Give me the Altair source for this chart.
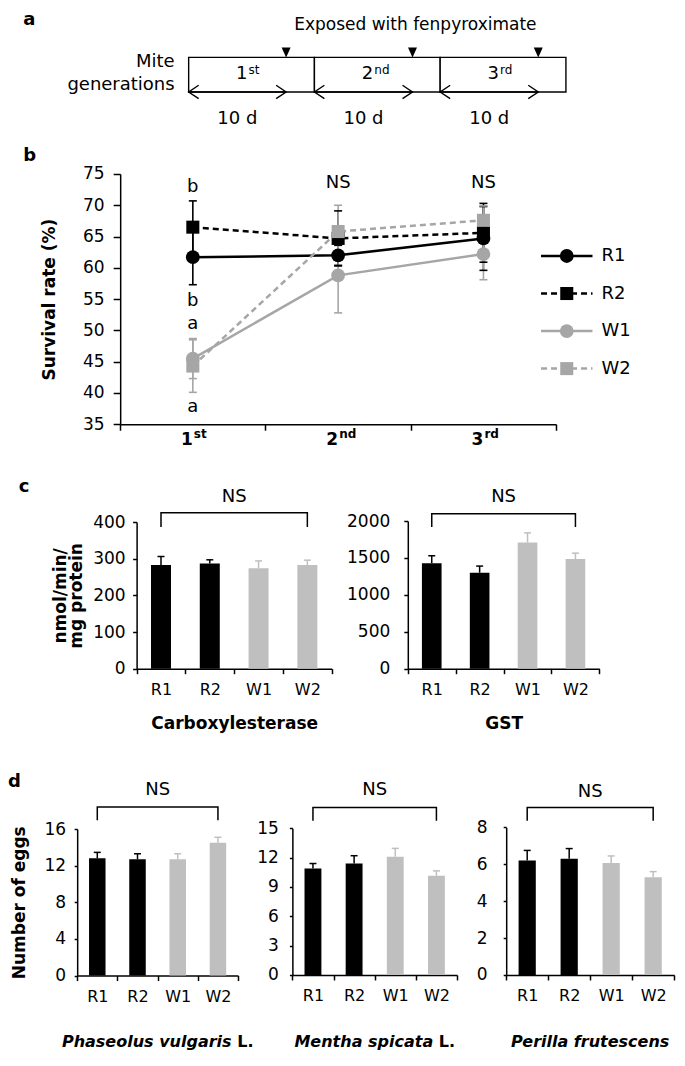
import altair as alt
import pandas as pd

# ------------------------------------------------------------------ data
series = ["R1", "R2", "W1", "W2"]
generations = ["1st", "2nd", "3rd"]
generation_number = ["1", "2", "3"]
generation_suffix = ["st", "nd", "rd"]

survival_R1 = [61.7, 62.0, 64.7]
survival_R2 = [66.5, 64.7, 65.6]
survival_W1 = [45.5, 58.8, 62.2]
survival_W2 = [44.3, 65.8, 67.6]
survival_err_R1 = [4.4, 1.6, 5.1]
survival_err_R2 = [4.2, 4.4, 4.7]
survival_err_W1 = [3.2, 6.0, 4.1]
survival_err_W2 = [4.2, 4.2, 2.3]

stat_text = ["b", "b", "a", "a", "NS", "NS"]
stat_generation = ["1st", "1st", "1st", "1st", "2nd", "3rd"]

carboxylesterase = [283, 287, 274, 283]
carboxylesterase_err = [23, 10, 20, 13]
gst = [1430, 1300, 1710, 1485]
gst_err = [100, 90, 130, 80]

eggs_phaseolus = [12.8, 12.7, 12.7, 14.5]
eggs_phaseolus_err = [0.65, 0.6, 0.6, 0.6]
eggs_mentha = [10.9, 11.4, 12.1, 10.15]
eggs_mentha_err = [0.5, 0.8, 0.85, 0.5]
eggs_perilla = [6.2, 6.3, 6.07, 5.3]
eggs_perilla_err = [0.55, 0.55, 0.38, 0.3]

gen_start_day = [0, 10, 20]
gen_end_day = [10, 20, 30]
exposure_day = [7.75, 17.8, 27.8]

# ------------------------------------------------------------------ layout / style
FONT = "DejaVu Sans"
W, H = 669, 1048


def X(r):
    return (r - 2) * 0.984


def Y(r):
    return (r - 3) * 0.988


BLACK = "#000000"
GRAY = "#a6a6a6"
BARGRAY = "#bfbfbf"
line_color = {"R1": BLACK, "R2": BLACK, "W1": GRAY, "W2": GRAY}
bar_color = {"R1": BLACK, "R2": BLACK, "W1": BARGRAY, "W2": BARGRAY}
COL = alt.Color("color:N", scale=None)

# ------------------------------------------------------------------ panel a (timeline)
a_x0, a_x1, a_top, a_bot = 185.6, 569, 53, 88


def va(ref):
    return (a_bot - ref) / (a_bot - a_top)


xa_scale = alt.Scale(domain=[0, 30], range=[X(a_x0), X(a_x1)], nice=False, zero=False)
ya_scale = alt.Scale(domain=[0, 1], range=[Y(a_bot), Y(a_top)], nice=False, zero=False)


def ax(f):
    return alt.X(f + ":Q", scale=xa_scale, axis=None)


def ay(f):
    return alt.Y(f + ":Q", scale=ya_scale, axis=None)


gen_df = pd.DataFrame({
    "start": gen_start_day, "end": gen_end_day, "exp": exposure_day,
    "num": generation_number, "suf": generation_suffix,
})
gen_df["period"] = [f"{e - s} d" for s, e in zip(gen_start_day, gen_end_day)]
gen_df["mid"] = (gen_df["start"] + gen_df["end"]) / 2
gen_df["arrow_mid"] = (gen_df["start"] + gen_df["exp"]) / 2
gen_df["y0"] = 0.0
gen_df["y1"] = 1.0
gen_df["y_num"] = va(70)
gen_df["y_suf"] = va(65.5)
gen_df["y_tri"] = va(48)
gen_df["y_period"] = va(115)

A = alt.Chart(gen_df)
a_boxes = A.mark_rect(fill="white", stroke="black", strokeWidth=1.4).encode(
    x=ax("start"), x2=alt.X2("end"), y=ay("y0"), y2=alt.Y2("y1"))
a_tri = A.mark_point(shape="M-0.9,-1L0.9,-1L0,1Z", filled=True, color="black",
                     size=100, opacity=1).encode(x=ax("exp"), y=ay("y_tri"))
a_arrow = A.mark_rule(color="black", strokeWidth=1.4).encode(
    x=ax("start"), x2=alt.X2("exp"), y=ay("y0"))
a_head_l = A.mark_point(shape="M1,-0.67L0,0L1,0.67", filled=False, color="black",
                        strokeWidth=1.4, size=400, opacity=1).encode(x=ax("start"), y=ay("y0"))
a_head_r = A.mark_point(shape="M-1,-0.67L0,0L-1,0.67", filled=False, color="black",
                        strokeWidth=1.4, size=400, opacity=1).encode(x=ax("exp"), y=ay("y0"))
a_num = A.mark_text(align="right", baseline="middle", fontSize=18, dx=-4).encode(
    x=ax("mid"), y=ay("y_num"), text="num:N")
a_suf = A.mark_text(align="left", baseline="middle", fontSize=12, dx=-3).encode(
    x=ax("mid"), y=ay("y_suf"), text="suf:N")
a_period = A.mark_text(baseline="middle", fontSize=18).encode(
    x=ax("arrow_mid"), y=ay("y_period"), text="period:N")

a_title_df = pd.DataFrame({"x": [(416 - a_x0) / (a_x1 - a_x0) * 30], "y": [va(20)],
                           "t": ["Exposed with fenpyroximate"]})
a_title = alt.Chart(a_title_df).mark_text(baseline="middle", fontSize=17).encode(
    x=ax("x"), y=ay("y"), text="t:N")
a_side_df = pd.DataFrame({"x": [0, 0], "y": [va(58), va(81)], "t": ["Mite", "generations"]})
a_side = alt.Chart(a_side_df).mark_text(align="right", baseline="middle", fontSize=18, dx=-14).encode(
    x=ax("x"), y=ay("y"), text="t:N")
a_letter_df = pd.DataFrame({"x": [0], "y": [va(15)], "t": ["a"]})
a_letter = alt.Chart(a_letter_df).mark_text(
    align="left", baseline="middle", fontSize=18, fontWeight="bold",
    dx=X(17.5) - X(a_x0)).encode(x=ax("x"), y=ay("y"), text="t:N")

panel_a = alt.layer(a_boxes, a_arrow, a_head_l, a_head_r, a_tri, a_num, a_suf,
                    a_period, a_title, a_side, a_letter)

# ------------------------------------------------------------------ panel b (survival)
b_x0, b_x1, b_top, b_bot = 116, 559, 171, 424.3
b_step = (X(b_x1) - X(b_x0)) / 3


def b_val(ref):
    return 75 - (ref - b_top) * 40 / (b_bot - b_top)


xb_scale = alt.Scale(type="band", domain=generations, range=[X(b_x0), X(b_x1)],
                     paddingInner=0, paddingOuter=0)
xb_axis = alt.Axis(orient="bottom", offset=-(H - Y(b_bot)), labels=False, title=None,
                   tickBand="extent", tickSize=6)
yb_scale = alt.Scale(domain=[35, 75], range=[Y(b_bot), Y(b_top)], nice=False, zero=False)
yb_axis = alt.Axis(orient="left", offset=-X(b_x0), values=list(range(35, 80, 5)), format="d",
                   tickSize=7, labelPadding=9, labelFontSize=17,
                   title="Survival rate (%)", titleX=X(43.7) - X(b_x0),
                   titleY=(Y(b_top) + Y(b_bot)) / 2, titleAngle=270, titleAlign="center",
                   titleBaseline="middle", titleFontWeight="bold", titleFontSize=17)


def bx():
    return alt.X("gen:N", scale=xb_scale, axis=xb_axis)


def by(f):
    return alt.Y(f + ":Q", scale=yb_scale, axis=yb_axis)


rows = []
for s, means, errs in zip(series, [survival_R1, survival_R2, survival_W1, survival_W2],
                          [survival_err_R1, survival_err_R2, survival_err_W1, survival_err_W2]):
    for g, m, e in zip(generations, means, errs):
        rows.append({"series": s, "gen": g, "value": m, "lo": m - e, "hi": m + e,
                     "color": line_color[s]})
df_b = pd.DataFrame(rows)
solid_b = df_b[df_b["series"].isin(["R1", "W1"])]
dashed_b = df_b[df_b["series"].isin(["R2", "W2"])]

b_err = alt.Chart(df_b).mark_rule(strokeWidth=1.6).encode(x=bx(), y=by("lo"), y2=alt.Y2("hi"), color=COL)
b_cap_lo = alt.Chart(df_b).mark_tick(orient="horizontal", size=8, thickness=1.6, opacity=1).encode(
    x=bx(), y=by("lo"), color=COL)
b_cap_hi = alt.Chart(df_b).mark_tick(orient="horizontal", size=8, thickness=1.6, opacity=1).encode(
    x=bx(), y=by("hi"), color=COL)
b_line_s = alt.Chart(solid_b).mark_line(strokeWidth=2.5).encode(
    x=bx(), y=by("value"), detail="series:N", color=COL)
b_line_d = alt.Chart(dashed_b).mark_line(strokeWidth=2.5, strokeDash=[6, 4]).encode(
    x=bx(), y=by("value"), detail="series:N", color=COL)
b_circ = alt.Chart(solid_b).mark_point(shape="circle", filled=True, size=190, opacity=1).encode(
    x=bx(), y=by("value"), color=COL)
b_sq = alt.Chart(dashed_b).mark_point(shape="square", filled=True, size=170, opacity=1).encode(
    x=bx(), y=by("value"), color=COL)

stat_ref_y = [184, 300, 323, 407, 180, 180]
stat_df = pd.DataFrame({"gen": stat_generation, "y": [b_val(r) for r in stat_ref_y], "t": stat_text})
b_stat = alt.Chart(stat_df).mark_text(baseline="middle", fontSize=18).encode(
    x=bx(), y=by("y"), text="t:N")

xl_df = pd.DataFrame({"gen": generations, "num": generation_number, "suf": generation_suffix,
                      "yn": b_val(440), "ys": b_val(434)})
b_xnum = alt.Chart(xl_df).mark_text(align="right", baseline="middle", fontSize=17,
                                    fontWeight="bold").encode(x=bx(), y=by("yn"), text="num:N")
b_xsuf = alt.Chart(xl_df).mark_text(align="left", baseline="middle", fontSize=12,
                                    fontWeight="bold", dx=1).encode(x=bx(), y=by("ys"), text="suf:N")
b_letter_df = pd.DataFrame({"gen": ["1st"], "y": [75], "t": ["b"]})
b_letter = alt.Chart(b_letter_df).mark_text(
    align="left", baseline="middle", fontSize=18, fontWeight="bold",
    dx=X(17.5) - (X(b_x0) + b_step / 2), dy=Y(153) - Y(b_top)).encode(x=bx(), y=by("y"), text="t:N")

panel_b = alt.layer(b_err, b_cap_lo, b_cap_hi, b_line_s, b_line_d, b_circ, b_sq,
                    b_stat, b_xnum, b_xsuf, b_letter)

# legend of panel b
leg_df = pd.DataFrame({"series": series, "x0": 0.0, "x1": 1.0, "xm": 0.5,
                       "color": [line_color[s] for s in series]})
lx_scale = alt.Scale(domain=[0, 1], range=[X(543.7), X(596)], nice=False, zero=False)
ly_scale = alt.Scale(type="point", domain=series, range=[Y(254), Y(368)], padding=0)


def lx(f):
    return alt.X(f + ":Q", scale=lx_scale, axis=None)


def ly():
    return alt.Y("series:N", scale=ly_scale, axis=None)


leg_s = leg_df[leg_df["series"].isin(["R1", "W1"])]
leg_d = leg_df[leg_df["series"].isin(["R2", "W2"])]
legend_b = alt.layer(
    alt.Chart(leg_s).mark_rule(strokeWidth=2.5).encode(x=lx("x0"), x2=alt.X2("x1"), y=ly(), color=COL),
    alt.Chart(leg_d).mark_rule(strokeWidth=2.5, strokeDash=[6, 4]).encode(
        x=lx("x0"), x2=alt.X2("x1"), y=ly(), color=COL),
    alt.Chart(leg_s).mark_point(shape="circle", filled=True, size=190, opacity=1).encode(
        x=lx("xm"), y=ly(), color=COL),
    alt.Chart(leg_d).mark_point(shape="square", filled=True, size=170, opacity=1).encode(
        x=lx("xm"), y=ly(), color=COL),
    alt.Chart(leg_df).mark_text(align="left", baseline="middle", fontSize=18, dx=9).encode(
        x=lx("x1"), y=ly(), text="series:N"),
)


# ------------------------------------------------------------------ bar panels (c, d)
def bar_panel(values, errs, x0, x1, top, bot, ymax, yticks, ytick_size, ylab_pad,
              ns_ref, br_top_ref, br_end_ref, ytitle=None, ytitle_ref_x=None,
              xtitle=None, species=None, letter=None, letter_ref=None):
    step = (X(x1) - X(x0)) / 4

    def val(ref):
        return ymax * (bot - ref) / (bot - top)

    xs = alt.Scale(type="band", domain=series, range=[X(x0), X(x1)], paddingInner=0, paddingOuter=0)
    xkw = dict(orient="bottom", offset=-(H - Y(bot)), tickBand="extent", tickSize=5,
               labelPadding=8, labelFontSize=16, labelAngle=0, labelAlign="center",
               labelBaseline="top")
    if xtitle:
        xkw.update(title=xtitle, titleX=(X(x0) + X(x1)) / 2, titleY=Y(727) - Y(bot),
                   titleAlign="center", titleBaseline="middle", titleFontWeight="bold",
                   titleFontSize=17)
    else:
        xkw.update(title=None)
    xa = alt.Axis(**xkw)
    ys = alt.Scale(domain=[0, ymax], range=[Y(bot), Y(top)], nice=False, zero=True)
    ykw = dict(orient="left", offset=-X(x0), values=yticks, format="d", tickSize=ytick_size,
               labelPadding=ylab_pad, labelFontSize=17)
    if ytitle:
        ykw.update(title=ytitle, titleX=X(ytitle_ref_x) - X(x0), titleY=(Y(top) + Y(bot)) / 2,
                   titleAngle=270, titleAlign="center", titleBaseline="middle",
                   titleFontWeight="bold", titleFontSize=17, titleLineHeight=16)
    else:
        ykw.update(title=None)
    ya = alt.Axis(**ykw)

    def ex():
        return alt.X("strain:N", scale=xs, axis=xa)

    def ey(f):
        return alt.Y(f + ":Q", scale=ys, axis=ya)

    df = pd.DataFrame({"strain": series, "value": values,
                       "top": [v + e for v, e in zip(values, errs)],
                       "color": [bar_color[s] for s in series]})
    layers = [
        alt.Chart(df).mark_bar(width=alt.RelativeBandSize(0.41)).encode(x=ex(), y=ey("value"), color=COL),
        alt.Chart(df).mark_rule(strokeWidth=1.5).encode(x=ex(), y=ey("value"), y2=alt.Y2("top"), color=COL),
        alt.Chart(df).mark_tick(orient="horizontal", size=7, thickness=1.5, opacity=1).encode(
            x=ex(), y=ey("top"), color=COL),
    ]
    br_df = pd.DataFrame({"strain": ["R1", "R1", "W2", "W2"],
                          "y": [val(br_end_ref), val(br_top_ref), val(br_top_ref), val(br_end_ref)],
                          "o": [0, 1, 2, 3]})
    layers.append(alt.Chart(br_df).mark_line(color="black", strokeWidth=1.5).encode(
        x=ex(), y=ey("y"), order="o:Q"))
    ns_df = pd.DataFrame({"strain": ["R2"], "y": [val(ns_ref)], "t": ["NS"]})
    layers.append(alt.Chart(ns_df).mark_text(baseline="middle", fontSize=18, dx=step / 2).encode(
        x=ex(), y=ey("y"), text="t:N"))
    if species:
        name, tail, split = species
        sp_df = pd.DataFrame({"strain": ["R2"], "y": [0], "t": [name], "tail": [tail or ""]})
        dy = Y(1050) - Y(bot)
        if tail:
            layers.append(alt.Chart(sp_df).mark_text(
                align="right", baseline="middle", fontSize=16, fontWeight="bold", fontStyle="italic",
                dx=step / 2 + split, dy=dy).encode(x=ex(), y=ey("y"), text="t:N"))
            layers.append(alt.Chart(sp_df).mark_text(
                align="left", baseline="middle", fontSize=16, fontWeight="bold",
                dx=step / 2 + split + 5.6, dy=dy).encode(x=ex(), y=ey("y"), text="tail:N"))
        else:
            layers.append(alt.Chart(sp_df).mark_text(
                align="center", baseline="middle", fontSize=16, fontWeight="bold", fontStyle="italic",
                dx=step / 2, dy=dy).encode(x=ex(), y=ey("y"), text="t:N"))
    if letter:
        l_df = pd.DataFrame({"strain": ["R1"], "y": [ymax], "t": [letter]})
        layers.append(alt.Chart(l_df).mark_text(
            align="left", baseline="middle", fontSize=18, fontWeight="bold",
            dx=X(letter_ref[0]) - (X(x0) + step / 2), dy=Y(letter_ref[1]) - Y(top)).encode(
            x=ex(), y=ey("y"), text="t:N"))
    return alt.layer(*layers)


c_left = bar_panel(carboxylesterase, carboxylesterase_err, 132.7, 331, 523.3, 671.7, 400,
                   [0, 100, 200, 300, 400], 4, 7.5, 498, 514, 528.3,
                   ytitle=["nmol/min/", "mg protein"], ytitle_ref_x=55.5,
                   xtitle="Carboxylesterase", letter="c", letter_ref=(13, 488))
c_right = bar_panel(gst, gst_err, 408.3, 603, 522.3, 671.7, 2000,
                    [0, 500, 1000, 1500, 2000], 4, 14, 498, 515, 528.3, xtitle="GST")
d_left = bar_panel(eggs_phaseolus, eggs_phaseolus_err, 72.3, 235.8, 834, 982.3, 16,
                   [0, 4, 8, 12, 16], 3, 8.6, 795, 811.7, 825,
                   ytitle="Number of eggs", ytitle_ref_x=14,
                   species=("Phaseolus vulgaris", "L.", 74), letter="d", letter_ref=(2, 786))
d_mid = bar_panel(eggs_mentha, eggs_mentha_err, 291, 458.3, 833.3, 981.7, 15,
                  [0, 3, 6, 9, 12, 15], 3, 11, 795, 812.3, 825.7,
                  species=("Mentha spicata", "L.", 58.5))
d_right = bar_panel(eggs_perilla, eggs_perilla_err, 508.3, 679, 832.3, 981.7, 8,
                    [0, 2, 4, 6, 8], 3, 16, 797, 812.3, 825.7,
                    species=("Perilla frutescens", None, 0))

chart = (
    alt.layer(panel_a, panel_b, legend_b, c_left, c_right, d_left, d_mid, d_right)
    .resolve_scale(x="independent", y="independent")
    .properties(width=W, height=H, padding=0, autosize=alt.AutoSizeParams(type="none"))
    .configure_view(stroke=None)
    .configure_axis(grid=False, domainColor="black", tickColor="black", labelColor="black",
                    titleColor="black", labelFont=FONT, titleFont=FONT, domainWidth=1.5,
                    tickWidth=1.5)
    .configure_text(font=FONT, color="black")
)

chart.save("out.html", embed_options={"renderer": "svg", "actions": False})
